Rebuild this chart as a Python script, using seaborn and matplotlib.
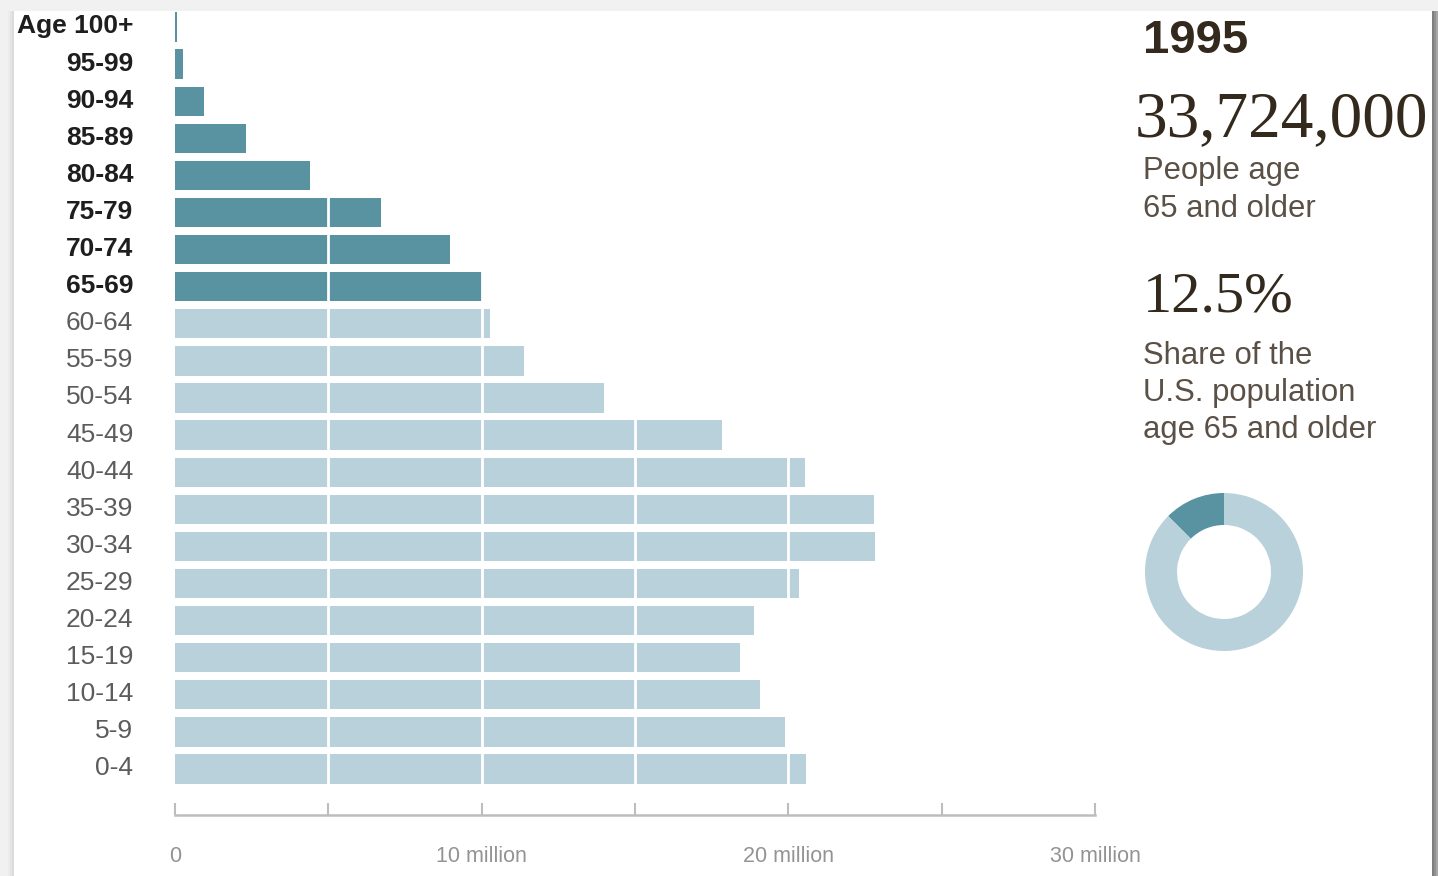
import matplotlib
matplotlib.use("Agg")
import matplotlib.pyplot as plt
import matplotlib.transforms as mtransforms
from matplotlib.patches import Rectangle
import numpy as np
import pandas as pd
import seaborn as sns

# Population by five-year age group, 1995 (millions of people)
age_groups = ["Age 100+", "95-99", "90-94", "85-89", "80-84", "75-79", "70-74",
              "65-69", "60-64", "55-59", "50-54", "45-49", "40-44", "35-39",
              "30-34", "25-29", "20-24", "15-19", "10-14", "5-9", "0-4"]
population_m = [0.05, 0.27, 0.93, 2.33, 4.40, 6.73, 8.98, 10.04, 10.28, 11.38,
                13.99, 17.84, 20.54, 22.79, 22.82, 20.35, 18.88, 18.42, 19.08,
                19.89, 20.58]
senior_groups = ["Age 100+", "95-99", "90-94", "85-89", "80-84", "75-79",
                 "70-74", "65-69"]

x_ticks = [0, 5, 10, 15, 20, 25, 30]
x_tick_labels = ["0", "", "10 million", "", "20 million", "", "30 million"]
grid_lines = [5, 10, 15, 20]

headline_year = "1995"
senior_count = "33,724,000"
senior_count_caption = "People age\n65 and older"
senior_share_pct = 12.5
senior_share_caption = "Share of the\nU.S. population\nage 65 and older"

DARK = "#5993a1"
LIGHT = "#b9d1da"
TEXT_BROWN = "#33291c"
CAPTION = "#5a5046"

df = pd.DataFrame({"age": age_groups, "pop": population_m})
df["group"] = np.where(df["age"].isin(senior_groups), "65+", "under 65")

sns.set_theme(style="white")
plt.rcParams["font.family"] = ["Liberation Sans", "DejaVu Sans"]

W, H = 1438, 876
fig = plt.figure(figsize=(W / 100, H / 100), dpi=100, facecolor="#f1f1f1")

# card with a soft drop shadow, drawn beneath everything else
card_l, card_r, card_t = 14 / W, 1432 / W, 1 - 11 / H
for off, col in [(6, "#a8a8a8"), (4, "#929292"), (2, "#7f7f7f")]:
    fig.patches.append(Rectangle((card_l, 0), card_r - card_l + off / W, card_t,
                                 transform=fig.transFigure, facecolor=col,
                                 edgecolor="none", zorder=-10))
for off, col in [(6, "#ececec"), (4, "#e4e4e4"), (2, "#dcdcdc")]:
    fig.patches.append(Rectangle((card_l - off / W, 0), off / W, card_t,
                                 transform=fig.transFigure, facecolor=col,
                                 edgecolor="none", zorder=-10))
fig.patches.append(Rectangle((card_l, 0), card_r - card_l, card_t,
                             transform=fig.transFigure, facecolor="white",
                             edgecolor="none", zorder=-9))

ax_left, ax_right = 175 / W, 1095 / W
ax_bottom, ax_top = 1 - 815 / H, 1 - 11 / H
ax = fig.add_axes([ax_left, ax_bottom, ax_right - ax_left, ax_top - ax_bottom])
ax.set_facecolor("none")

sns.barplot(data=df, x="pop", y="age", hue="group", order=age_groups,
            hue_order=["65+", "under 65"], palette=[DARK, LIGHT],
            dodge=False, width=0.79, orient="h", legend=False,
            saturation=1, linewidth=0, ax=ax)

# white reference lines running through the bars
ax.vlines(grid_lines, -0.5, len(age_groups) - 0.5, colors="white",
          linewidth=2.0, zorder=5)

ax.set_xlim(0, 30)
ax.set_ylim(len(age_groups) - 1 + 1.24, -0.43)
ax.set_xlabel("")
ax.set_ylabel("")

for side in ["top", "right", "left"]:
    ax.spines[side].set_visible(False)
ax.spines["bottom"].set_color("#bdbdbd")
ax.spines["bottom"].set_linewidth(1.8)
ax.spines["bottom"].set_zorder(6)

ax.set_xticks(x_ticks)
ax.set_xticklabels(x_tick_labels, fontsize=15.5, color="#939393")
ax.tick_params(axis="x", direction="in", length=9, width=1.5, color="#bdbdbd",
               pad=22, bottom=True)

ax.set_yticks(range(len(age_groups)))
ax.set_yticklabels(age_groups)
ax.tick_params(axis="y", length=0, pad=30)
nudge_up = mtransforms.ScaledTranslation(0, 3 / 100, fig.dpi_scale_trans)
for lbl in ax.get_yticklabels():
    if lbl.get_text() in senior_groups:
        lbl.set_fontweight("bold")
        lbl.set_color("#1e1e1e")
    else:
        lbl.set_color("#5c5c5c")
    lbl.set_fontsize(19)
    lbl.set_transform(lbl.get_transform() + nudge_up)

# side panel text
tx = 1143 / W
fig.text(tx, 1 - 41 / H, headline_year, fontsize=34, fontweight="bold",
         color=TEXT_BROWN, va="center", ha="left")
fig.text(1135 / W, 1 - 120 / H, senior_count, fontsize=47,
         family=["Liberation Serif", "DejaVu Serif"], color=TEXT_BROWN,
         va="center", ha="left")
fig.text(tx, 1 - 190 / H, senior_count_caption, fontsize=22.3, color=CAPTION,
         va="center", ha="left", linespacing=1.35)
fig.text(tx, 1 - 298 / H, f"{senior_share_pct:.1f}%", fontsize=42,
         family=["Liberation Serif", "DejaVu Serif"], color=TEXT_BROWN,
         va="center", ha="left")
fig.text(tx, 1 - 393 / H, senior_share_caption, fontsize=22.3, color=CAPTION,
         va="center", ha="left", linespacing=1.3)

# donut of the 65+ share
cx, cy, r_px = 1224, 572, 79
half = 90
dax = fig.add_axes([(cx - half) / W, 1 - (cy + half) / H, 2 * half / W, 2 * half / H])
dax.pie([senior_share_pct, 100 - senior_share_pct], colors=[DARK, LIGHT],
        startangle=90, counterclock=True, radius=1,
        wedgeprops=dict(width=32 / r_px, edgecolor="none"))
lim = half / r_px
dax.set_xlim(-lim, lim)
dax.set_ylim(-lim, lim)
dax.set_aspect("equal")
dax.axis("off")

fig.savefig("out.png", dpi=100, facecolor=fig.get_facecolor())
